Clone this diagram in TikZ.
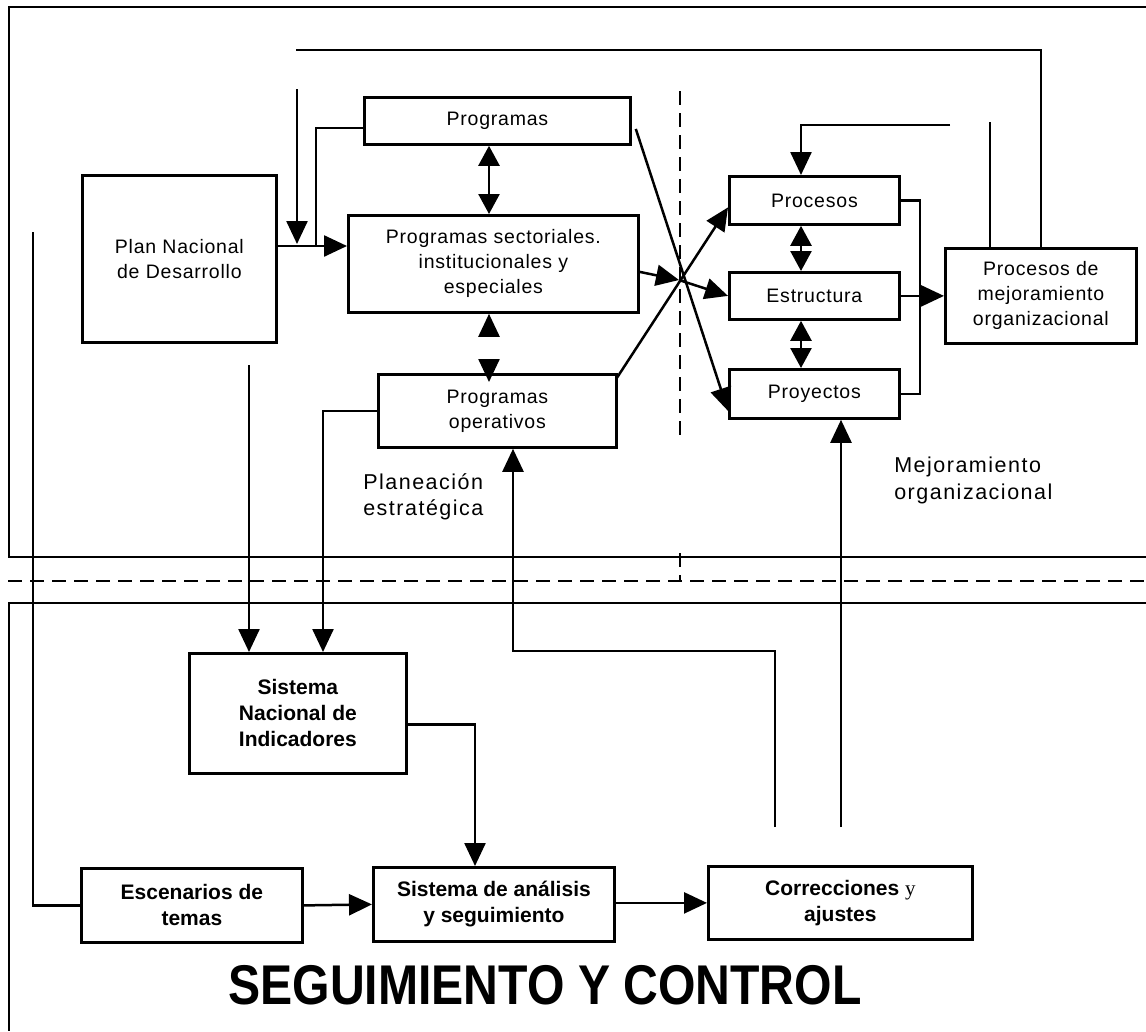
\documentclass[tikz,border=0pt]{standalone}
\usepackage{fontspec}
\setmainfont{Liberation Sans}
\newfontfamily\spacedsans[LetterSpace=4]{Liberation Sans}
\newfontfamily\widesans[LetterSpace=7]{Liberation Sans}
\newfontfamily\serifface{Liberation Serif}
\usetikzlibrary{arrows.meta,calc}

\begin{document}
\begin{tikzpicture}[x=1pt,y=-1pt,
  line width=2.5pt,
  box/.style={draw, line width=2.8pt, inner sep=2pt, anchor=north west, align=center,
              font=\spacedsans\fontsize{19.5}{25}\selectfont},
  boldbox/.style={box, font=\fontsize{21}{26}\selectfont\bfseries},
  arr/.style={-{Triangle[length=23pt,width=21pt]}},
  dbl/.style={{Triangle[length=20pt,width=21pt]}-{Triangle[length=20pt,width=21pt]}},
  frame/.style={line width=2.6pt},
  sep/.style={line width=2.3pt, dash pattern=on 14pt off 8pt},
  caption/.style={anchor=north west, inner sep=0pt, align=left,
                  font=\widesans\fontsize{21.5}{26.5}\selectfont}
]
\useasboundingbox (0,0) rectangle (1146,1031);

% ---------- frames and separators ----------
\draw[frame] (1146,7) -- (9,7) -- (9,557) -- (1146,557);
\draw[sep] (8,581) -- (1146,581);
\draw[sep] (680,91) -- (680,435);
\draw[sep] (680,553) -- (680,581);
\draw[frame] (1146,603) -- (9,603) -- (9,1031);

% ---------- planning boxes ----------
\node[box, minimum width=194pt, minimum height=167pt] (plan) at (81,174) {Plan Nacional\\de Desarrollo};
\node[box, minimum width=266pt, minimum height=47pt] (prog) at (363,96) {Programas};
\node[box, minimum width=290pt, minimum height=97pt] (sect) at (347,214)
  {Programas sectoriales.\\institucionales y\\especiales};
\node[box, minimum width=238pt, minimum height=73pt] (oper) at (377,373) {Programas\\operativos};

% ---------- organizational boxes ----------
\node[box, minimum width=170pt, minimum height=48pt] (procesos) at (728,175) {Procesos};
\node[box, minimum width=170pt, minimum height=47pt] (estructura) at (728,271) {Estructura};
\node[box, minimum width=170pt, minimum height=49pt] (proyectos) at (728,368) {Proyectos};
\node[box, minimum width=191pt, minimum height=95pt] (mejora) at (944,247)
  {Procesos de\\mejoramiento\\organizacional};

% ---------- monitoring boxes ----------
\node[boldbox, minimum width=217pt, minimum height=120pt] (sni) at (188,652)
  {Sistema\\Nacional de\\Indicadores};
\node[boldbox, minimum width=221pt, minimum height=74pt] (esc) at (80,867) {Escenarios de\\temas};
\node[boldbox, minimum width=241pt, minimum height=74pt] (ana) at (372,866)
  {Sistema de análisis\\y seguimiento};
\node[boldbox, minimum width=264pt, minimum height=73pt] (cor) at (707,865)
  {Correcciones {\mdseries\serifface y}\\ajustes};

% ---------- captions ----------
\node[caption] (lplan) at (362,472) {Planeación\\estratégica};
\node[caption] (lmej) at (893,456) {Mejoramiento\\organizacional};
\node[font=\fontsize{56}{60}\selectfont\bfseries, inner sep=0pt] (title) at (545,985)
  {\scalebox{0.86}[1]{SEGUIMIENTO Y CONTROL}};

% ---------- helper points ----------
\coordinate (jA) at (297,246);
\coordinate (jB) at (316,246);
\coordinate (topA) at (297,89);
\coordinate (topB) at (296,50);
\coordinate (mx) at (489,0);
\coordinate (px) at (801,0);
\coordinate (brk) at (920,0);
\coordinate (fb) at (950,125);
\coordinate (tap) at (990,122);
\coordinate (X) at (679,280);
\coordinate (c33) at (33,232);
\coordinate (c249) at (249,365);
\coordinate (c323) at (323,0);
\coordinate (c475) at (475,0);
\coordinate (c513) at (513,651);
\coordinate (c775) at (775,827);
\coordinate (c841) at (841,827);

% ---------- planning connectors ----------
\draw[arr] (plan.east |- jA) -- (sect.west |- jA);
\draw[arr] (topA) -- ($(jA)+(0,-2)$);
\draw ($(prog.west)+(0,7)$) -| (jB);
\draw[dbl] (prog.south -| mx) -- (sect.north -| mx);
\draw[arr] ($(sect.south -| mx)+(0,20)$) -- (sect.south -| mx);
\draw[arr] ($(oper.north -| mx)+(0,-14)$) -- ($(oper.north -| mx)+(0,9)$);

% ---------- crossing connectors ----------
\draw[arr] ($(sect.east)+(0,8)$) -- (X);
\draw[arr] (X) -- (estructura.west);
\draw[arr] ($(prog.east)+(4,8)$) -- ($(proyectos.west)+(0,17)$);
\draw[arr] ($(oper.north east)+(-1,5)$) -- ($(procesos.west)+(0,7)$);

% ---------- organizational connectors ----------
\draw[dbl] (procesos.south -| px) -- (estructura.north -| px);
\draw[dbl] (estructura.south -| px) -- (proyectos.north -| px);
\draw (procesos.east) -| (brk |- estructura.east) |- (proyectos.east);
\draw[arr] (estructura.east) -- (mejora.west |- estructura.east);
\draw (topB) -| (mejora.north);
\draw (tap) -- (tap |- mejora.north);
\draw[arr] (fb) -| (procesos.north -| px);

% ---------- monitoring connectors ----------
\draw (c33) |- (esc.west);
\draw[arr] (c249) -- (c249 |- sni.north);
\draw[arr] (oper.west) -| (c323 |- sni.north);
\draw[arr] ($(sni.east)+(0,11)$) -| (c475 |- ana.north);
\draw[arr] (esc.east) -- (ana.west);
\draw[arr] (ana.east |- cor.west) -- (cor.west);
\draw[arr] (c775) |- (c513) -- (c513 |- oper.south);
\draw[arr] (c841) -- (c841 |- proyectos.south);
\end{tikzpicture}
\end{document}
